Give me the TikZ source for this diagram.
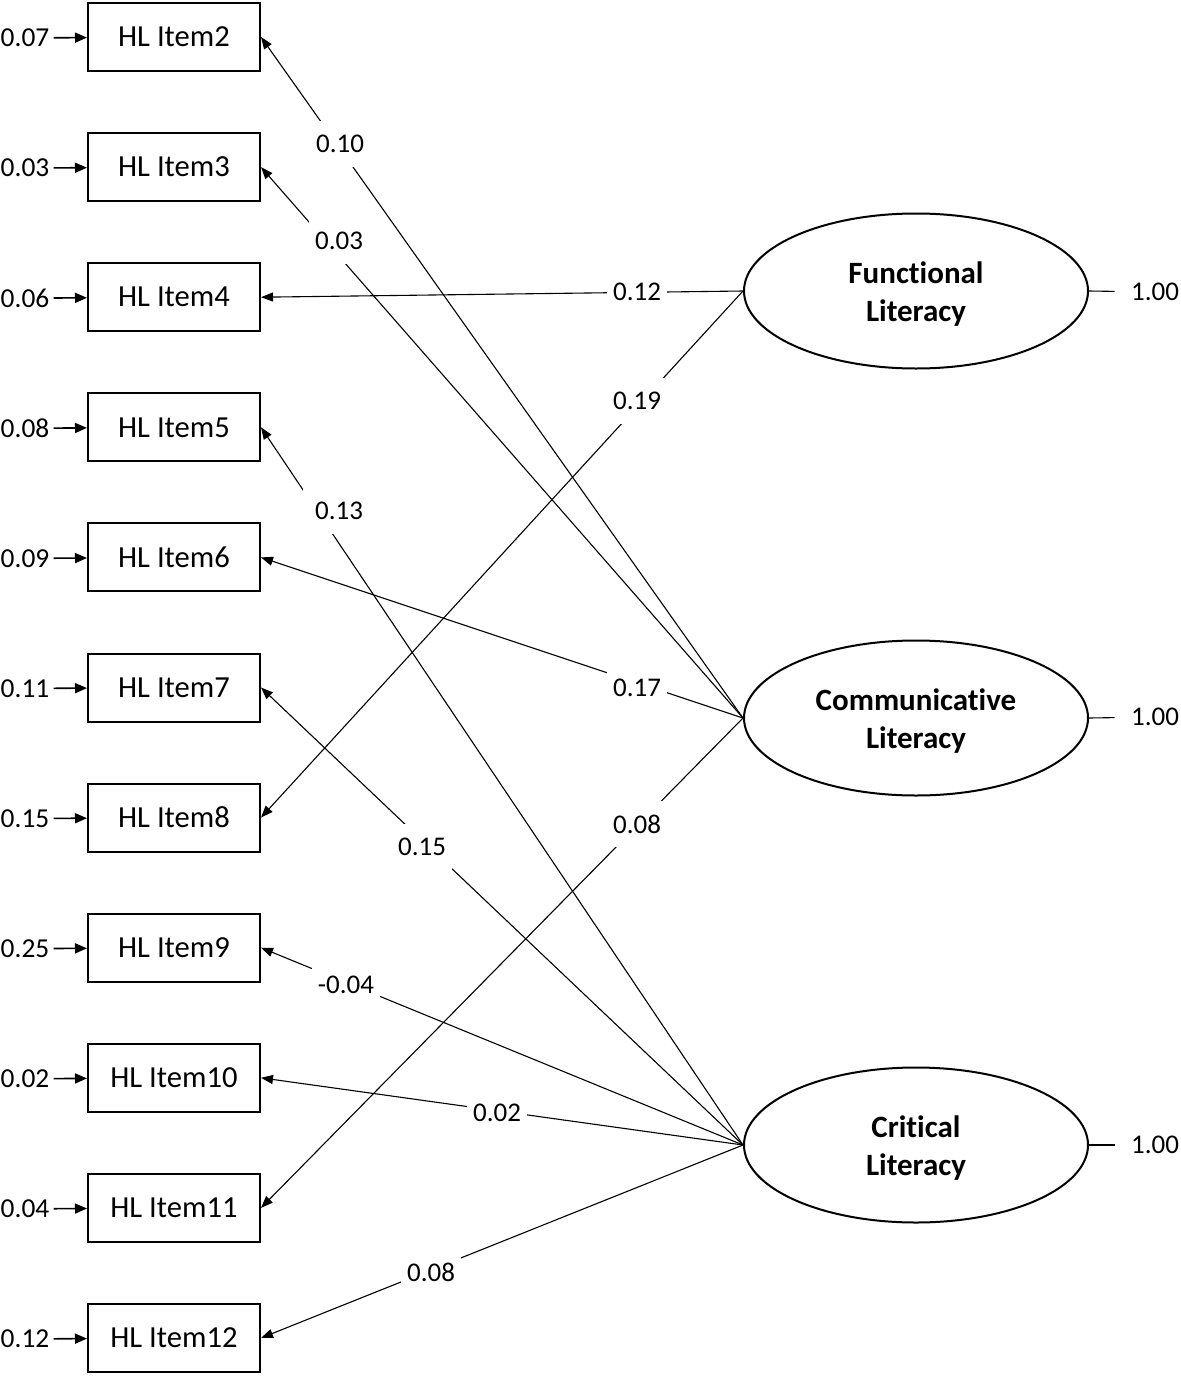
\documentclass[tikz,border=0pt]{standalone}
\usepackage{fontspec}
\setmainfont[Ligatures=NoCommon]{Carlito}
\usetikzlibrary{arrows.meta,shapes.geometric}
\newcommand{\latenttext}[1]{\raisebox{-2pt}[\height][\depth]{\begin{tabular}{@{}c@{}}#1\end{tabular}}}
\begin{document}
\begin{tikzpicture}[x=0.5pt,y=-0.5pt,
  item/.style={draw,line width=1pt,minimum width=86pt,minimum height=34pt,inner sep=0pt,font=\fontsize{15.3}{18}\selectfont},
  latent/.style={draw,ellipse,line width=1pt,minimum width=172pt,minimum height=77.5pt,inner sep=0pt,align=center,font=\fontsize{15.5}{19}\selectfont\bfseries},
  err/.style={inner sep=2pt,font=\fontsize{13.7}{16}\selectfont},
  coef/.style={fill=white,inner xsep=3pt,inner ysep=7pt,font=\fontsize{13.5}{16}\selectfont},
  varlab/.style={inner xsep=8pt,inner ysep=2pt,font=\fontsize{13.5}{16}\selectfont},
  load/.style={line width=0.55pt,-{Triangle[length=6pt,width=4.5pt]}},
  errarr/.style={line width=0.8pt,-{Triangle[length=6pt,width=5pt]}},
  plain/.style={line width=0.55pt}]
\useasboundingbox (0,0) rectangle (1181,1376);

% observed items
\foreach \k/\n in {0/2,1/3,2/4,3/5,4/6,5/7,6/8,7/9,8/10,9/11,10/12}{
  \node[item] (i\n) at (174,37+130.1*\k) {HL Item\n};
}
% error variances
\foreach \k/\n/\v in {0/2/0.07,1/3/0.03,2/4/0.06,3/5/0.08,4/6/0.09,5/7/0.11,6/8/0.15,7/9/0.25,8/10/0.02,9/11/0.04,10/12/0.12}{
  \node[err] (e\n) at (25,38+130.1*\k) {\v};
  \draw[errarr] (e\n) -- (i\n);
}

% latent factors
\node[latent] (F) at (916,291) {\latenttext{Functional\\Literacy}};
\node[latent] (C) at (916,718) {\latenttext{Communicative\\Literacy}};
\node[latent] (R) at (916,1145) {\latenttext{Critical\\Literacy}};

% factor variances
\node[varlab] (vF) at (1155,292) {1.00};
\node[varlab] (vC) at (1155,717) {1.00};
\node[varlab] (vR) at (1155,1145) {1.00};
\draw[plain] (F.east) -- (vF);
\draw[plain] (C.east) -- (vC);
\draw[plain] (R.east) -- (vR);

% loadings
\draw[load] (C.west) -- (i2.east);
\draw[load] (C.west) -- (i3.east);
\draw[load] (F.west) -- (i4.east);
\draw[load] (R.west) -- (i5.east);
\draw[load] (C.west) -- (i6.east);
\draw[load] (R.west) -- (i7.east);
\draw[load] (F.west) -- (i8.east);
\draw[load] (R.west) -- (i9.east);
\draw[load] (R.west) -- (i10.east);
\draw[load] (C.west) -- (i11.east);
\draw[load] (R.west) -- (i12.east);

% loading labels
\node[coef] (c2) at (340,144) {0.10};
\node[coef] (c3) at (339,241) {0.03};
\node[coef] (c4) at (637,292) {0.12};
\node[coef] (c8) at (637,401) {0.19};
\node[coef,inner xsep=6pt] (c5) at (339,511) {0.13};
\node[coef] (c6) at (637,688) {0.17};
\node[coef] (c7) at (422,847) {0.15};
\node[coef] (c11) at (637,824) {0.08};
\node[coef] (c9) at (346,985) {-0.04};
\node[coef] (c10) at (497,1113) {0.02};
\node[coef] (c12) at (431,1272) {0.08};
\end{tikzpicture}
\end{document}
